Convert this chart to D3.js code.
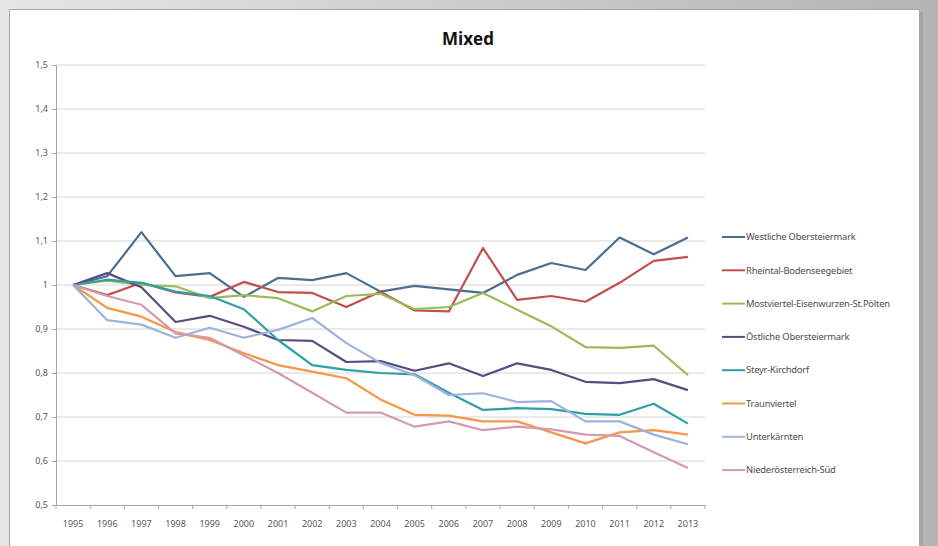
<!DOCTYPE html>
<html>
<head>
<meta charset="utf-8">
<script src="https://cdn.jsdelivr.net/npm/d3@7"></script>
<style>
  body { margin: 0; background: #d0d0d0; }
  svg { display: block; }
</style>
</head>
<body>
<div id="chart"></div>
<script>
let years = ["1995","1996","1997","1998","1999","2000","2001","2002","2003","2004",
             "2005","2006","2007","2008","2009","2010","2011","2012","2013"]
let yTicks = [0.5, 0.6, 0.7, 0.8, 0.9, 1.0, 1.1, 1.2, 1.3, 1.4, 1.5]

let names = ["Westliche Obersteiermark", "Rheintal-Bodenseegebiet", "Mostviertel-Eisenwurzen-St.Pölten",
             "Östliche Obersteiermark", "Steyr-Kirchdorf", "Traunviertel", "Unterkärnten", "Niederösterreich-Süd"]
let colors = ["#4a6e91", "#c0504d", "#9bbb59", "#5a4c82", "#2e9fa8", "#f79646", "#9db3dc", "#d49aae"]

let westliche  = [1, 1.02, 1.12, 1.02, 1.027, 0.973, 1.016, 1.011, 1.027, 0.985, 0.998, 0.99, 0.982, 1.023, 1.05, 1.034, 1.108, 1.07, 1.108]
let rheintal   = [1, 0.977, 1.005, 0.983, 0.973, 1.007, 0.984, 0.982, 0.95, 0.985, 0.942, 0.94, 1.084, 0.966, 0.975, 0.962, 1.005, 1.055, 1.064]
let mostviertel= [1, 1.01, 1.0, 0.997, 0.97, 0.977, 0.97, 0.94, 0.975, 0.98, 0.945, 0.95, 0.982, 0.944, 0.906, 0.859, 0.857, 0.862, 0.795]
let oestliche  = [1, 1.027, 0.995, 0.916, 0.93, 0.905, 0.875, 0.873, 0.825, 0.827, 0.805, 0.822, 0.793, 0.822, 0.807, 0.78, 0.777, 0.786, 0.761]
let steyr      = [1, 1.012, 1.005, 0.985, 0.975, 0.945, 0.875, 0.818, 0.807, 0.8, 0.797, 0.755, 0.716, 0.72, 0.718, 0.707, 0.705, 0.73, 0.685]
let traun      = [1, 0.948, 0.928, 0.893, 0.875, 0.845, 0.818, 0.803, 0.788, 0.74, 0.705, 0.703, 0.69, 0.69, 0.665, 0.64, 0.665, 0.67, 0.66]
let unterk     = [1, 0.92, 0.91, 0.88, 0.903, 0.88, 0.898, 0.925, 0.868, 0.823, 0.795, 0.75, 0.754, 0.734, 0.736, 0.69, 0.69, 0.66, 0.638]
let noeSued    = [1, 0.975, 0.955, 0.89, 0.88, 0.84, 0.8, 0.755, 0.71, 0.71, 0.678, 0.69, 0.67, 0.678, 0.672, 0.66, 0.657, 0.62, 0.584]

let series = [westliche, rheintal, mostviertel, oestliche, steyr, traun, unterk, noeSued]

let W = 938, H = 546
let svg = d3.select("#chart").append("svg").attr("width", W).attr("height", H)

// grey page background with gradient
let defs = svg.append("defs")
let bg = defs.append("linearGradient").attr("id", "bg").attr("x1", 0).attr("x2", 1)
bg.append("stop").attr("offset", 0).attr("stop-color", "#e6e6e6")
bg.append("stop").attr("offset", 1).attr("stop-color", "#b4b4b4")
svg.append("rect").attr("width", W).attr("height", H).attr("fill", "url(#bg)")

// chart box with shadow
svg.append("rect").attr("x", 12).attr("y", 12).attr("width", 911).attr("height", 546)
    .attr("fill", "#9a9a9a").attr("opacity", 0.6)
svg.append("rect").attr("x", 9.5).attr("y", 9.5).attr("width", 910).attr("height", 546)
    .attr("fill", "#fff").attr("stroke", "#a6a6a6")

let x = d3.scaleBand().domain(years).range([56, 705]).padding(0)
let y = d3.scaleLinear().domain([0.5, 1.5]).range([505, 65])
let cx = d => x(d) + x.bandwidth() / 2

// gridlines
svg.append("g").selectAll("line").data(yTicks.slice(1)).join("line")
    .attr("x1", 56).attr("x2", 705)
    .attr("y1", d => y(d)).attr("y2", d => y(d))
    .attr("stroke", "#d6d6d6").attr("stroke-width", 1.2)

// y axis
let yAxis = svg.append("g").attr("transform", "translate(56,0)")
    .call(d3.axisLeft(y).tickValues(yTicks).tickSize(4)
        .tickFormat(d => d3.format(".1f")(d).replace(".0", "").replace(".", ",")))
yAxis.select(".domain").attr("stroke", "#a6a6a6")
yAxis.selectAll(".tick line").attr("stroke", "#a6a6a6")
yAxis.selectAll("text").attr("fill", "#595959").style("font", "9px 'Noto Sans'").attr("x", -8)

// x axis
let xAxis = svg.append("g").attr("transform", "translate(0,505)")
    .call(d3.axisBottom(x).tickSize(0).tickPadding(16))
xAxis.select(".domain").attr("stroke", "#a6a6a6")
xAxis.selectAll("text").attr("fill", "#595959").style("font", "9px 'Noto Sans'")
xAxis.selectAll(".bt").data(years.concat(["end"])).join("line")
    .attr("x1", d => d == "end" ? 705 : x(d)).attr("x2", d => d == "end" ? 705 : x(d))
    .attr("y1", 0).attr("y2", 4).attr("stroke", "#a6a6a6")

// lines
let line = d3.line().x((d, i) => cx(years[i])).y(d => y(d))
svg.append("g").selectAll("path").data(series).join("path")
    .attr("d", line)
    .attr("fill", "none")
    .attr("stroke", (d, i) => colors[i])
    .attr("stroke-width", 2.2)
    .attr("stroke-linejoin", "round")

// title
svg.append("text").attr("x", 468).attr("y", 45).attr("text-anchor", "middle")
    .style("font", "bold 17px 'Open Sans'").attr("fill", "#111").text("Mixed")

// legend
let legend = svg.append("g").selectAll("g").data(names).join("g")
    .attr("transform", (d, i) => "translate(722," + (237 + i * 33.3) + ")")
legend.append("line").attr("x1", 0).attr("x2", 23)
    .attr("stroke", (d, i) => colors[i]).attr("stroke-width", 2)
legend.append("text").attr("x", 24).attr("dy", "0.35em")
    .style("font", "9.4px 'Noto Sans'").style("letter-spacing", "-0.2px")
    .attr("fill", "#4d4d4d").text(d => d)
</script>
</body>
</html>
